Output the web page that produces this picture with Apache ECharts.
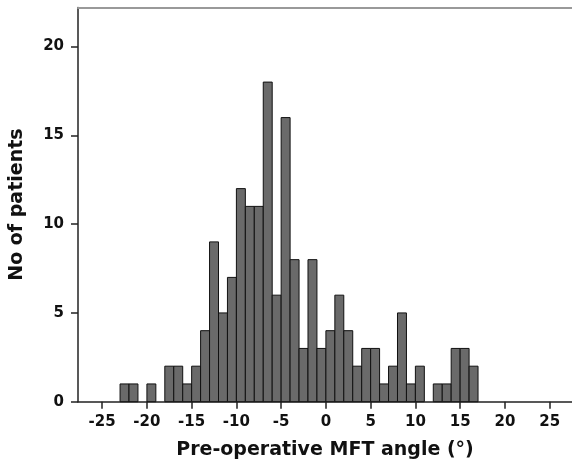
<!DOCTYPE html>
<html>
<head>
<meta charset="utf-8">
<script src="https://cdn.jsdelivr.net/npm/echarts@6/dist/echarts.min.js"></script>
<style>
  html, body { margin: 0; padding: 0; background: #fff; }
  #chart { width: 572px; height: 466px; }
</style>
</head>
<body>
<div id="chart"></div>
<script>
// histogram bins: left edge of each 1-degree bin and its count
const binStarts = [-23, -22, -21, -20, -19, -18, -17, -16, -15, -14, -13, -12, -11, -10, -9, -8, -7, -6, -5, -4,
  -3, -2, -1, 0, 1, 2, 3, 4, 5, 6, 7, 8, 9, 10, 11, 12, 13, 14, 15, 16];
const counts = [1, 1, 0, 1, 0, 2, 2, 1, 2, 4, 9, 5, 7, 12, 11, 11, 18, 6, 16, 8,
  3, 8, 3, 4, 6, 4, 2, 3, 3, 1, 2, 5, 1, 2, 0, 1, 1, 3, 3, 2];
const xTicks = [-25, -20, -15, -10, -5, 0, 5, 10, 15, 20, 25];
const yTicks = [0, 5, 10, 15, 20];

const font = "DejaVu Sans, sans-serif";

const chart = echarts.init(document.getElementById("chart"));

const seriesData = binStarts
  .map((b, i) => [b, counts[i]])
  .filter((d) => d[1] > 0);

const option = {
  animation: false,
  grid: { left: 76.7, right: 0, top: 7.5, bottom: 64.3 },
  xAxis: [
    {
      type: "value",
      min: -27.7,
      max: 27.5,
      name: "Pre-operative MFT angle (°)",
      nameLocation: "middle",
      nameGap: 39,
      nameTextStyle: { fontFamily: font, fontWeight: "bold", fontSize: 19, color: "#111" },
      axisLine: { onZero: false, lineStyle: { color: "#222", width: 1.5 } },
      axisTick: { show: true, length: 7, customValues: xTicks, lineStyle: { color: "#222", width: 1.5 } },
      axisLabel: {
        customValues: xTicks,
        margin: 13,
        fontFamily: font,
        fontWeight: "bold",
        fontSize: 15,
        color: "#111",
      },
      splitLine: { show: false },
    },
    {
      type: "value",
      position: "top",
      min: -27.7,
      max: 27.5,
      axisLine: { show: true, onZero: false, lineStyle: { color: "#999", width: 2 } },
      axisTick: { show: false },
      axisLabel: { show: false },
      splitLine: { show: false },
    },
  ],
  yAxis: {
    type: "value",
    min: 0,
    max: 22.2,
    name: "No of patients",
    nameLocation: "middle",
    nameGap: 51,
    nameTextStyle: { fontFamily: font, fontWeight: "bold", fontSize: 19, color: "#111" },
    axisLine: { show: true, onZero: false, lineStyle: { color: "#222", width: 1.5 } },
    axisTick: { show: true, length: 7, customValues: yTicks, lineStyle: { color: "#222", width: 1.5 } },
    axisLabel: {
      customValues: yTicks,
      margin: 14,
      fontFamily: font,
      fontWeight: "bold",
      fontSize: 15,
      color: "#111",
    },
    splitLine: { show: false },
  },
  series: [
    {
      type: "custom",
      xAxisIndex: 0,
      data: seriesData,
      renderItem: function (params, api) {
        const start = api.value(0);
        const p0 = api.coord([start, 0]);
        const p1 = api.coord([start + 1, api.value(1)]);
        return {
          type: "rect",
          shape: { x: p0[0], y: p1[1], width: p1[0] - p0[0], height: p0[1] - p1[1] },
          style: { fill: "#6a6a6a", stroke: "#111", lineWidth: 1 },
        };
      },
    },
  ],
};

chart.setOption(option);
</script>
</body>
</html>
